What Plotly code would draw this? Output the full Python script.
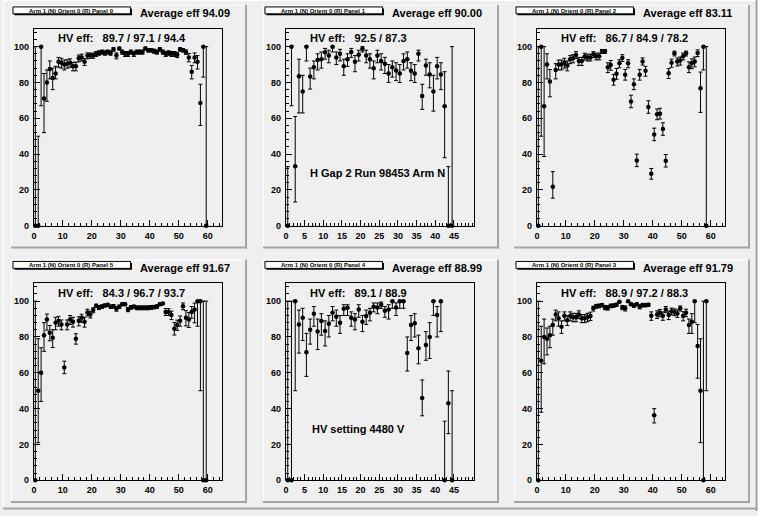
import plotly.graph_objects as go

W, H = 758, 516
BG = "#efefef"
FONT = "Liberation Sans"

# ---------------- data ----------------
titles = ["Arm 1 (N) Orient 0 (R) Panel 0", "Arm 1 (N) Orient 0 (R) Panel 1",
          "Arm 1 (N) Orient 0 (R) Panel 2", "Arm 1 (N) Orient 0 (R) Panel 5",
          "Arm 1 (N) Orient 0 (R) Panel 4", "Arm 1 (N) Orient 0 (R) Panel 3"]
avg_eff = ["94.09", "90.00", "83.11", "91.67", "88.99", "91.79"]
hv_eff = ["89.7 / 97.1 / 94.4", "92.5 / 87.3", "86.7 / 84.9 / 78.2",
          "84.3 / 96.7 / 93.7", "89.1 / 88.9", "88.9 / 97.2 / 88.3"]
x_max = [65, 50.4, 65, 65, 50.4, 65]
x_ticks_long = [0, 10, 20, 30, 40, 50, 60]
x_ticks_short = [0, 5, 10, 15, 20, 25, 30, 35, 40, 45]
x_tickvals = [x_ticks_long, x_ticks_short, x_ticks_long, x_ticks_long, x_ticks_short, x_ticks_long]
x_minor = [2, 1, 2, 2, 1, 2]
y_tickvals = [0, 20, 40, 60, 80, 100]
y_max = 110

# Panel 0
eff_p0 = [0, 0, 100, 71, 80, 87.5, 82.5, 85, 91.5, 91,
          90, 90.5, 91, 89, 89, 93.5, 94, 91.5, 95, 95,
          95, 96, 96.5, 97, 96.5, 97, 96.5, 98.5, 95, 99,
          97, 96, 96, 97, 96, 97, 97, 97, 99, 98,
          98, 97.5, 97, 98.5, 97, 96, 96.5, 96, 96, 95.5,
          98.5, 98, 97, 94, 86, 94, 91.5, 68.5, 100, 0]
lo_p0 = [0, 0, 33, 19, 10.5, 5.5, 6.5, 3, 3, 3,
         3, 2.5, 2.5, 2.5, 2.5, 2, 2, 2, 1.8, 1.5,
         1.5, 1.5, 1.3, 1.2, 1.3, 1.2, 1.3, 1, 1.8, 0.8,
         1.2, 1.5, 1.5, 1.2, 1.5, 1.2, 1.2, 1.2, 0.8, 1,
         1, 1.2, 1.2, 1, 1.2, 1.5, 1.3, 1.5, 1.5, 1.6,
         1, 1, 1.3, 2.5, 4, 3, 4, 12.5, 17, 0]
hi_p0 = [100, 50, 0, 14, 7, 4.5, 5.5, 4, 2.5, 2.5,
         2.5, 2.2, 2.2, 2.3, 2.3, 1.8, 1.8, 1.8, 1.5, 1.4,
         1.4, 1.3, 1.2, 1.1, 1.2, 1.1, 1.2, 0.9, 1.5, 0.7,
         1.1, 1.3, 1.3, 1.1, 1.3, 1.1, 1.1, 1.1, 0.7, 0.9,
         0.9, 1.1, 1.1, 0.9, 1.1, 1.3, 1.2, 1.3, 1.3, 1.4,
         0.9, 0.9, 1.2, 2.2, 3.5, 2.5, 3.5, 10.5, 0, 100]

# Panel 1
eff_p1 = [0, 100, 33.3, 83.5, 75, 100, 83.3, 88.5, 92.5, 93,
          96.8, 95, 100, 94, 96, 89, 93, 97, 91.5, 95.5,
          98.8, 95, 93, 88, 95, 92, 90.5, 85, 88.5, 86.7,
          85, 92, 93, 86.5, 85, 96, 72.5, 89.5, 84.5, 75,
          89, 84.5, 66.7, 0, 0]
lo_p1 = [0, 33, 20, 20.5, 12, 8, 7, 6.5, 5.5, 5,
         3.8, 4, 3, 4, 4, 5, 4, 3, 5.5, 3.5,
         1.8, 4, 5, 6, 4, 5, 5.5, 5, 5.5, 5.7,
         5, 5, 5, 5.5, 5, 4, 7.5, 5.5, 7.5, 11,
         7, 8.5, 28.7, 0, 0]
hi_p1 = [33, 0, 27.7, 9.5, 9, 0, 4.7, 3.5, 3.5, 4,
         2.2, 3, 0, 3, 2.5, 4, 3, 2, 3.5, 2.5,
         1.2, 3, 3, 4, 3, 4, 3.5, 5, 3.5, 4.3,
         5, 4, 4, 4.5, 5, 2, 6.5, 3.5, 6.5, 9,
         5, 6.5, 19.3, 33, 100]

# Panel 2
eff_p2 = [0, 100, 66.7, 90, 80.5, 21.8, 87, 90, 90, 91,
          89.5, 93, 93.5, 95.4, 92, 92, 94.5, 94, 94, 95.7,
          94.6, 94.6, 97.4, 97.4, 88.5, 89.8, 81.5, 84.8, 90.7, 93.7,
          84.3, 90.7, 69.4, 79, 36.5, 84.3, 91.7, 86.5, 66.3, 29,
          51, 62.2, 62.6, 54, 36.3, 85.2, 91, 96.3, 91.7, 92.2,
          94.6, 96.3, 88.5, 90.7, 91.7, 96.5, 76.8, 100, 0]
lo_p2 = [0, 50, 28, 8, 8.5, 6.4, 5, 3, 3, 3,
         3, 2.5, 2.5, 2, 2.5, 2.5, 2, 2, 2, 1.8,
         2, 2, 1.2, 1.2, 3, 3, 3, 3, 2.5, 2,
         3, 2.5, 3.5, 3, 3.5, 3, 2, 3, 3.5, 3,
         3.5, 3, 3, 3.5, 3.5, 3, 2.5, 1.5, 2.5, 2.5,
         2, 1.5, 3, 3, 3, 2, 13.5, 13, 0]
hi_p2 = [100, 0, 33.3, 6, 6.7, 8.4, 3.5, 2.5, 2.5, 2.5,
         2.5, 2, 2, 1.8, 2, 2, 1.8, 1.8, 1.8, 1.5,
         1.8, 1.8, 1, 1, 2.5, 2.5, 3, 3, 2, 1.8,
         3, 2, 3.5, 3, 3.5, 3, 2, 2.5, 3.5, 3,
         3.5, 3, 3, 3.5, 3.5, 2.5, 2, 1.2, 2, 2,
         1.8, 1.2, 3, 2.5, 2.5, 1.7, 9, 0, 100]

# Panel 5
eff_p5 = [0, 50, 60, 81, 89.8, 82.4, 79.6, 88, 89, 87,
          63, 87, 89.8, 88.5, 79, 89, 90.7, 88.5, 93.7, 92.6,
          95, 97.4, 96.5, 97, 97.6, 98, 96.9, 97.2, 95.7, 96.9,
          98.3, 98.3, 95.4, 96.5, 96.9, 96.3, 96.3, 96.3, 96.3, 96.3,
          96.5, 96.7, 97, 98.3, 98.7, 94, 94, 92.2, 84.6, 86.7,
          89, 97.2, 90.7, 89.8, 94, 95.4, 100, 100, 0, 0]
lo_p5 = [0, 29, 16, 9, 6, 4.5, 5.5, 4, 3, 3,
         3.5, 3, 2.8, 3, 3, 2.8, 2.5, 3, 2, 2,
         1.5, 1, 1.2, 1, 0.9, 0.8, 1, 1, 1.3, 1,
         0.8, 0.8, 1.3, 1.1, 1, 1.1, 1.1, 1.1, 1.1, 1.1,
         1.1, 1, 1, 0.8, 0.7, 2, 2, 2.5, 3.5, 3,
         3, 2, 4.5, 4.5, 3.5, 7.5, 14, 50, 0, 0]
hi_p5 = [100, 29, 14, 7, 3, 4, 4.5, 3, 2.5, 2.5,
         3.5, 2.5, 2.2, 2.5, 2.8, 2.3, 2, 2.5, 1.8, 1.8,
         1.3, 0.9, 1, 0.9, 0.8, 0.7, 0.9, 0.9, 1.1, 0.9,
         0.7, 0.7, 1.1, 1, 0.9, 1, 1, 1, 1, 1,
         1, 0.9, 0.9, 0.7, 0.6, 1.8, 1.8, 2.2, 3.5, 2.7,
         2.7, 1.8, 4, 3.8, 3, 3.5, 0, 0, 100, 100]

# Panel 4
eff_p4 = [0, 0, 100, 87, 90.7, 71.5, 84, 93, 83, 88.9,
          83.3, 87.4, 93.5, 91.3, 88, 95.7, 96.3, 90.7, 89.8, 95.4,
          88.5, 91.7, 93.5, 96.9, 96.5, 98, 94.6, 95.4, 100, 96.5,
          100, 100, 71, 86.7, 87.6, 73.7, 46, 75.5, 80, 100,
          92.2, 100, 0, 43, 0]
lo_p4 = [0, 0, 50, 16, 12.7, 13.5, 8, 7, 10, 7.9,
         8.3, 7.4, 4.5, 5.3, 6, 3.7, 4.3, 4.7, 5.8, 4.4,
         5.5, 4.7, 4.5, 2.9, 3.5, 2, 3.6, 5.4, 4, 4.5,
         4, 4, 10, 8.7, 7.6, 8.7, 10, 8.5, 12, 8,
         12.2, 17, 0, 17, 0]
hi_p4 = [100, 100, 0, 8, 5.3, 10.5, 6, 4, 7, 4.1,
         5.7, 4.6, 3.5, 3.7, 4, 2.3, 1.7, 3.3, 3.2, 2.6,
         3.5, 3.3, 2.5, 2.1, 2.5, 1.5, 2.4, 2.6, 0, 2.5,
         0, 0, 9, 5.3, 5.4, 7.3, 10, 7.5, 8, 0,
         4.8, 0, 33, 18, 50]

# Panel 3
eff_p3 = [0, 66.7, 80, 79, 81, 86.7, 92.6, 90.4, 85.7, 91.8,
          89.4, 91.7, 91, 91, 92.6, 90.4, 90.4, 91, 91.7, 96,
          97.2, 97.4, 97.8, 96.5, 96.3, 97.4, 97.6, 98, 99.6, 96.5,
          96, 100, 98.3, 97.6, 98.3, 96.9, 97.8, 97.8, 98, 91.8,
          36.3, 92.6, 93.5, 91.8, 95.4, 92.2, 94.3, 93.9, 93.1, 96,
          91.7, 93.5, 86.7, 88.5, 100, 75, 50, 0, 100]
lo_p3 = [0, 28.7, 15, 9, 7, 5.7, 3.6, 4.4, 3.7, 2.8,
         3, 2.7, 2.5, 2.5, 2.4, 2.4, 2.4, 2.5, 2.5, 1.5,
         1.2, 1.1, 1, 1.3, 1.3, 1.1, 1, 1, 0.5, 1.3,
         1.5, 0.5, 0.8, 1, 0.8, 1.2, 1, 1, 0.9, 2.5,
         4.3, 2.3, 2.2, 2.5, 1.8, 2.5, 2, 2, 2.2, 1.5,
         2.7, 2.2, 4.7, 6.5, 12, 18, 29, 0, 50]
hi_p3 = [100, 19.3, 10, 6, 5, 3.3, 2.4, 3.6, 3.3, 2.2,
         2.5, 2.3, 2.2, 2.2, 2, 2.1, 2.1, 2.2, 2.1, 1.2,
         1, 0.9, 0.8, 1.1, 1.1, 0.9, 0.8, 0.8, 0.3, 1.1,
         1.3, 0, 0.7, 0.9, 0.7, 1, 0.9, 0.9, 0.8, 2.2,
         3.7, 2, 1.9, 2.2, 1.6, 2.2, 1.8, 1.8, 2, 1.3,
         2.4, 2, 3.3, 4.5, 0, 12, 29, 100, 0]

panels = [(eff_p0, lo_p0, hi_p0), (eff_p1, lo_p1, hi_p1), (eff_p2, lo_p2, hi_p2),
          (eff_p5, lo_p5, hi_p5), (eff_p4, lo_p4, hi_p4), (eff_p3, lo_p3, hi_p3)]

extra_text = {1: ("H Gap 2 Run 98453 Arm N", 23, 170),
              4: ("HV setting 4480 V", 25, 171.5)}

# ---------------- layout helpers (pixels -> paper) ----------------
def fx(px):
    return px / W

def fy(py):
    return 1 - py / H

pad_left = [8, 261, 513]
pad_top = [5, 262]
PAD_W, PAD_H = 237, 246

fig = go.Figure()
shapes = []
annotations = []
layout_axes = {}

# canvas bevel
shapes.append(dict(type="line", xref="paper", yref="paper", x0=fx(0.5), x1=fx(0.5), y0=fy(0), y1=fy(H),
                   line=dict(color="white", width=1)))
shapes.append(dict(type="line", xref="paper", yref="paper", x0=fx(0), x1=fx(W), y0=fy(0.5), y1=fy(0.5),
                   line=dict(color="white", width=1)))
shapes.append(dict(type="line", xref="paper", yref="paper", x0=fx(W - 1.5), x1=fx(W - 1.5), y0=fy(0), y1=fy(H),
                   line=dict(color="#a4a4a4", width=2)))
shapes.append(dict(type="line", xref="paper", yref="paper", x0=fx(0), x1=fx(W), y0=fy(H - 2.5), y1=fy(H - 2.5),
                   line=dict(color="#a4a4a4", width=2)))

tick_font = dict(family=FONT, size=9, color="black", weight="bold")

for k, (vals, lo, hi) in enumerate(panels):
    r, c = divmod(k, 3)
    pl, pt = pad_left[c], pad_top[r]
    pr, pb = pl + PAD_W, pt + PAD_H
    x0, x1 = pl + 23, pl + 212
    y0, y1 = pt + 24, pt + 223
    n = k + 1
    xa = "xaxis" if n == 1 else f"xaxis{n}"
    ya = "yaxis" if n == 1 else f"yaxis{n}"
    xr = "x" if n == 1 else f"x{n}"
    yr = "y" if n == 1 else f"y{n}"

    # pad bevel
    shapes.append(dict(type="line", xref="paper", yref="paper", x0=fx(pl), x1=fx(pr), y0=fy(pt + 0.5), y1=fy(pt + 0.5),
                       line=dict(color="white", width=1)))
    shapes.append(dict(type="line", xref="paper", yref="paper", x0=fx(pl + 0.5), x1=fx(pl + 0.5), y0=fy(pt), y1=fy(pb),
                       line=dict(color="white", width=1)))
    shapes.append(dict(type="line", xref="paper", yref="paper", x0=fx(pr - 1), x1=fx(pr - 1), y0=fy(pt), y1=fy(pb),
                       line=dict(color="#a4a4a4", width=2)))
    shapes.append(dict(type="line", xref="paper", yref="paper", x0=fx(pl), x1=fx(pr), y0=fy(pb - 1), y1=fy(pb - 1),
                       line=dict(color="#a4a4a4", width=2)))

    # title box with shadow
    bx0, bx1, by0, by1 = pl + 2, pl + 120, pt + 2, pt + 9
    shapes.append(dict(type="rect", xref="paper", yref="paper", x0=fx(bx0 + 1.5), x1=fx(bx1 + 1.5),
                       y0=fy(by1 + 1.5), y1=fy(by0 + 1.5), fillcolor="black", line=dict(width=0)))
    shapes.append(dict(type="rect", xref="paper", yref="paper", x0=fx(bx0), x1=fx(bx1),
                       y0=fy(by1), y1=fy(by0), fillcolor="white", line=dict(color="black", width=1)))
    annotations.append(dict(xref="paper", yref="paper", x=fx((bx0 + bx1) / 2), y=fy((by0 + by1) / 2 + 0.3),
                            text=titles[k], showarrow=False, xanchor="center", yanchor="middle",
                            font=dict(family=FONT, size=6, color="black", weight="bold"), borderpad=0))
    annotations.append(dict(xref="paper", yref="paper", x=fx(pl + 129), y=fy(pt + 8.5),
                            text="Average eff " + avg_eff[k], showarrow=False, xanchor="left", yanchor="middle",
                            font=dict(family=FONT, size=11, color="black", weight="bold"), borderpad=0))
    annotations.append(dict(xref="paper", yref="paper", x=fx(x0 + 23), y=fy(pt + 33.5),
                            text="HV eff:\u00a0\u00a0\u00a0" + hv_eff[k], showarrow=False, xanchor="left",
                            yanchor="middle",
                            font=dict(family=FONT, size=11, color="black", weight="bold"), borderpad=0))
    if k in extra_text:
        t, dx, dy = extra_text[k]
        annotations.append(dict(xref="paper", yref="paper", x=fx(x0 + dx), y=fy(pt + dy),
                                text=t, showarrow=False, xanchor="left", yanchor="middle",
                                font=dict(family=FONT, size=11, color="black", weight="bold"), borderpad=0))

    xs = [i + 0.5 for i in range(len(vals))]
    fig.add_trace(go.Scatter(
        x=xs, y=vals, mode="markers", xaxis=xr, yaxis=yr, showlegend=False, cliponaxis=False,
        marker=dict(symbol="circle", size=4.5, color="black"),
        error_y=dict(type="data", symmetric=False, array=hi, arrayminus=lo,
                     color="black", thickness=1, width=2),
        error_x=dict(type="constant", value=0.5, color="black", thickness=1, width=0),
    ))

    layout_axes[xa] = dict(domain=[fx(x0), fx(x1)], anchor=yr, range=[0, x_max[k]],
                           showline=True, mirror=True, linecolor="black", linewidth=1,
                           ticks="inside", ticklen=6, tickwidth=1, tickcolor="black",
                           tickmode="array", tickvals=x_tickvals[k], showgrid=False, zeroline=False,
                           tickfont=tick_font, ticklabelstandoff=1,
                           minor=dict(ticks="inside", ticklen=3, tickcolor="black", tickwidth=1,
                                      dtick=x_minor[k], tick0=0, showgrid=False))
    layout_axes[ya] = dict(domain=[fy(y1), fy(y0)], anchor=xr, range=[0, y_max],
                           showline=True, mirror=True, linecolor="black", linewidth=1,
                           ticks="inside", ticklen=6, tickwidth=1, tickcolor="black",
                           tickmode="array", tickvals=y_tickvals, showgrid=False, zeroline=False,
                           tickfont=tick_font, ticklabelstandoff=2,
                           minor=dict(ticks="inside", ticklen=3, tickcolor="black", tickwidth=1,
                                      dtick=4, tick0=0, showgrid=False))

fig.update_layout(width=W, height=H, margin=dict(l=0, r=0, t=0, b=0),
                  paper_bgcolor=BG, plot_bgcolor=BG, shapes=shapes, annotations=annotations,
                  hovermode=False, **layout_axes)

fig.write_html("out.html", config={"displayModeBar": False, "staticPlot": True},
               post_script="document.body.style.margin='0';document.body.style.padding='0';"
                           "document.body.style.overflow='hidden';")
